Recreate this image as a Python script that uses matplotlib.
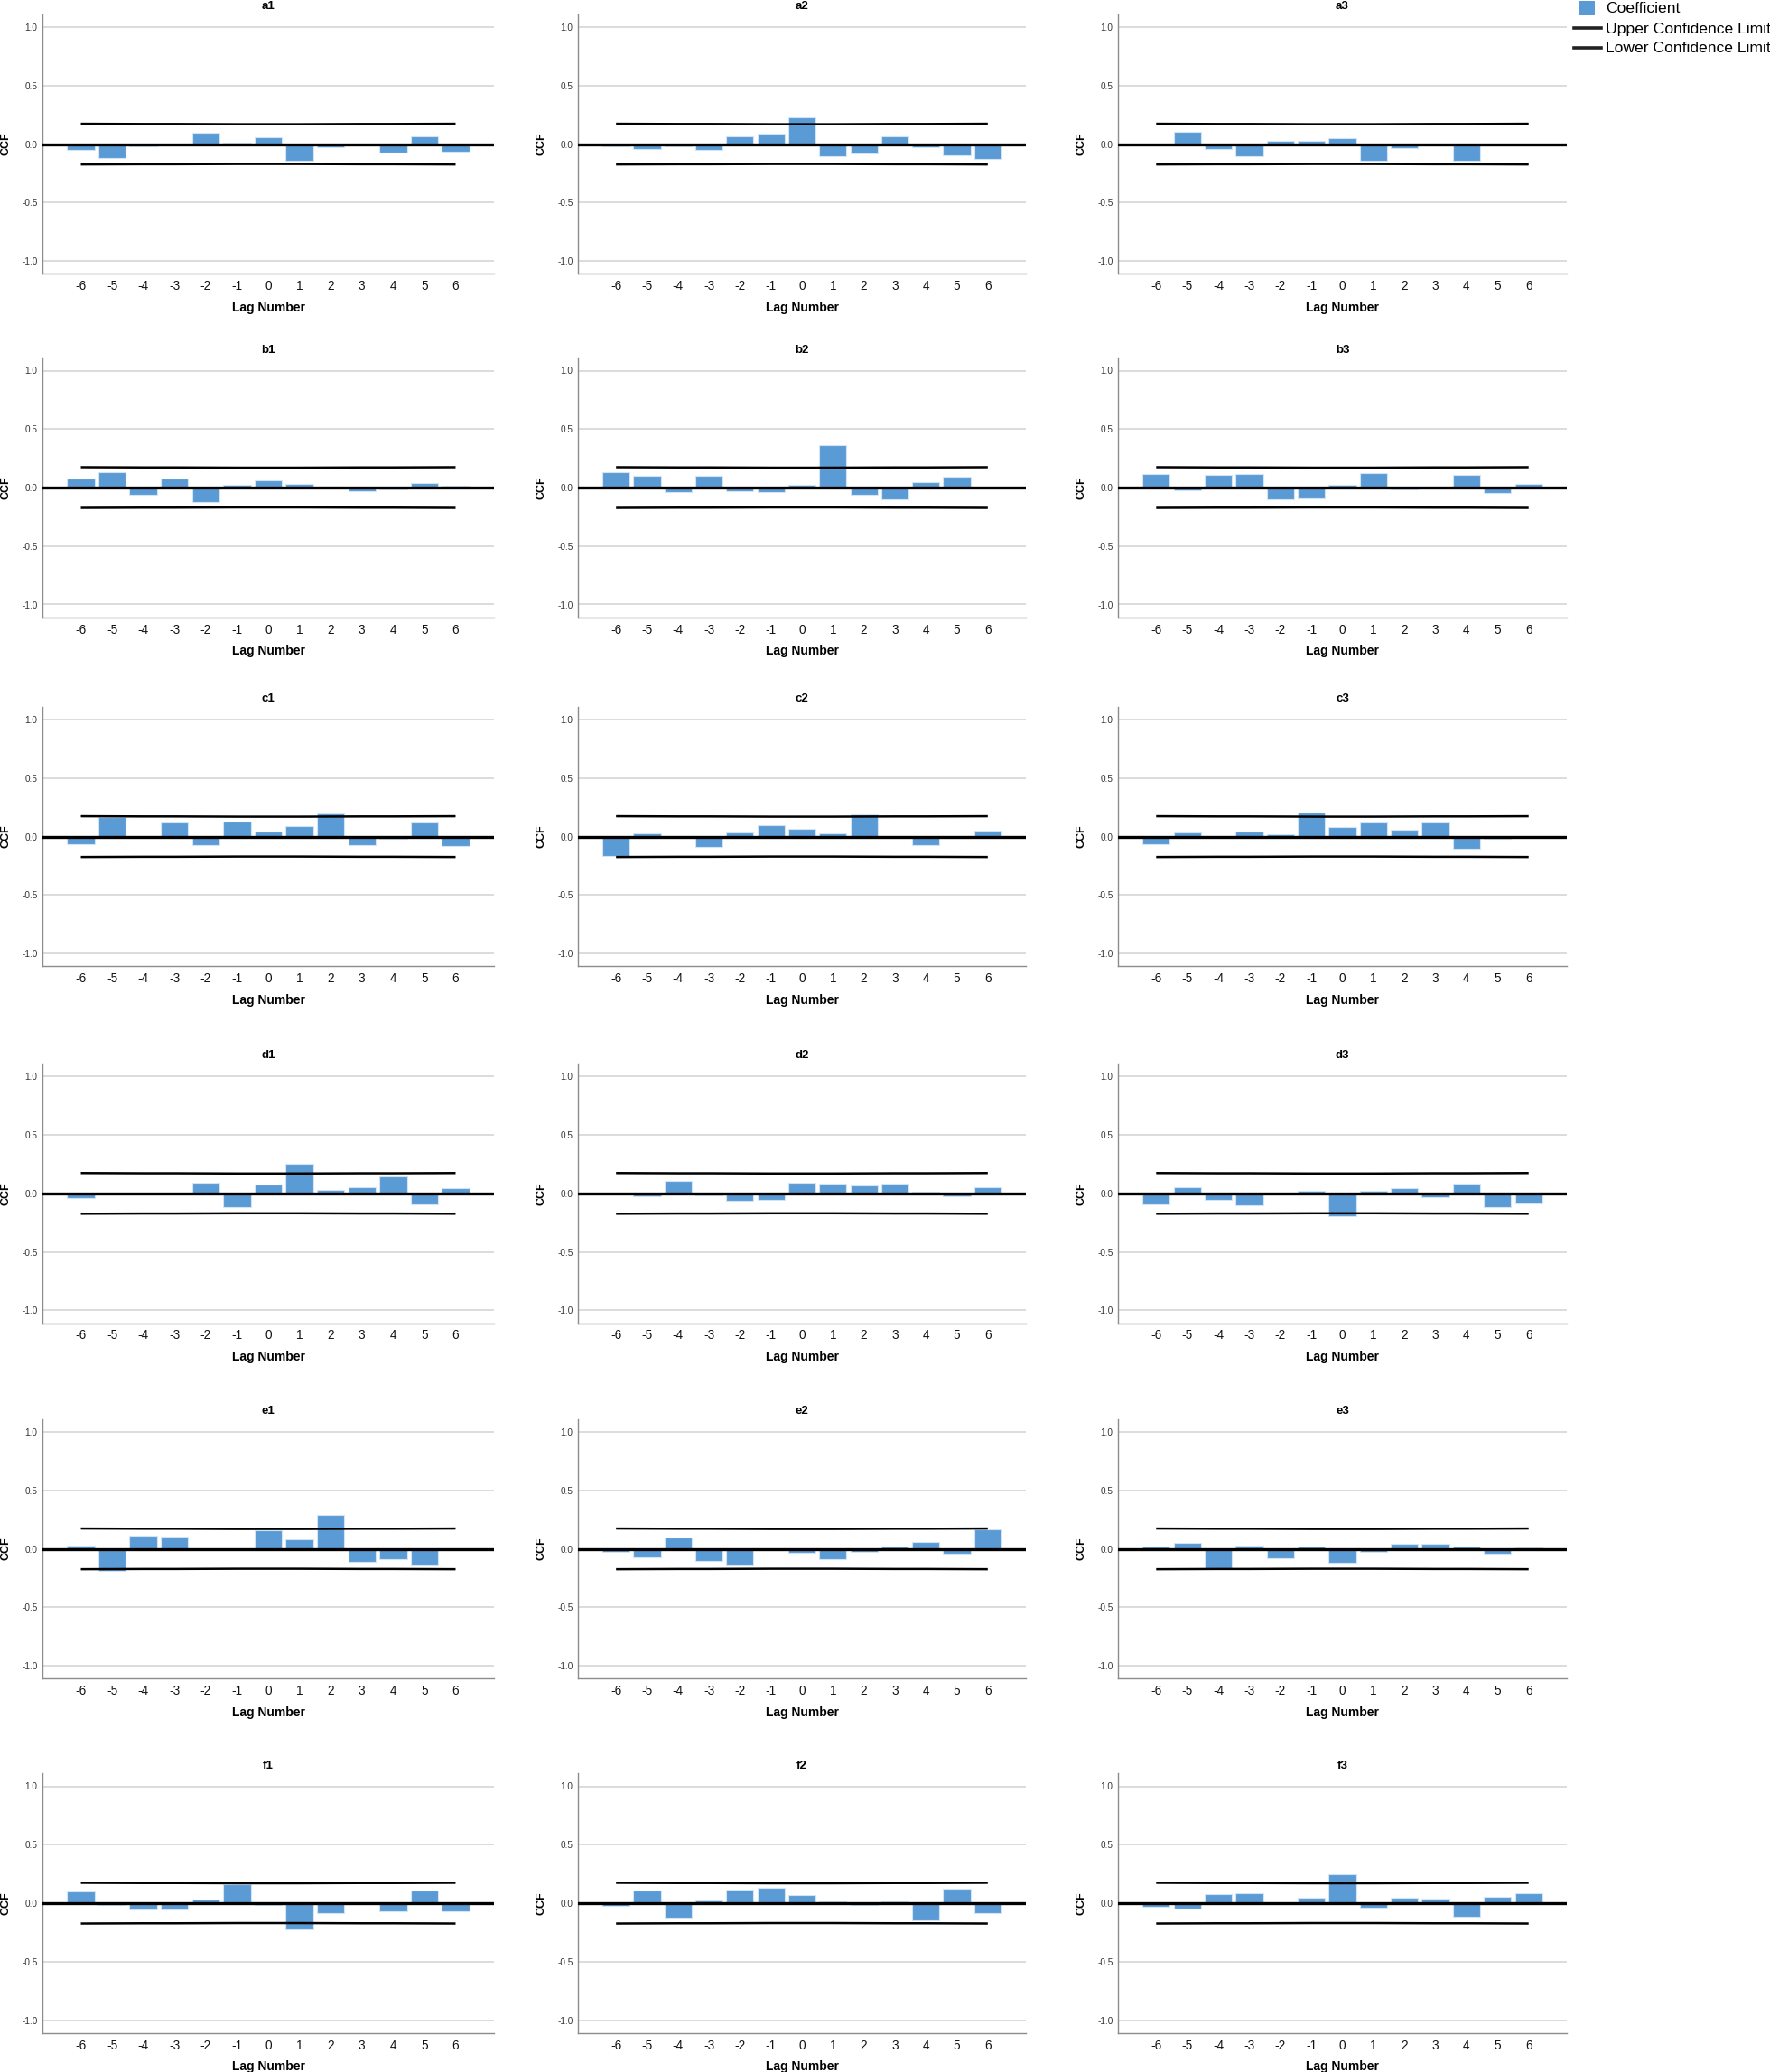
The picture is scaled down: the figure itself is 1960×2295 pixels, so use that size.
import matplotlib
matplotlib.use('Agg')
import matplotlib.pyplot as plt
from matplotlib.lines import Line2D
from matplotlib.patches import Rectangle

plt.rcParams['font.family'] = ['Liberation Sans', 'DejaVu Sans']

# ---------------- data ----------------
LAGS = [-6, -5, -4, -3, -2, -1, 0, 1, 2, 3, 4, 5, 6]
X_TICK_LABELS = ['-6', '-5', '-4', '-3', '-2', '-1', '0', '1', '2', '3', '4', '5', '6']
Y_TICKS = [-1.0, -0.5, 0.0, 0.5, 1.0]
Y_TICK_LABELS = ['-1.0', '-0.5', '0.0', '0.5', '1.0']

UPPER_LIMIT = [0.174, 0.173, 0.172, 0.172, 0.171, 0.170, 0.170, 0.170, 0.171, 0.172, 0.172, 0.173, 0.174]
LOWER_LIMIT = [-0.174, -0.173, -0.172, -0.172, -0.171, -0.170, -0.170, -0.170, -0.171, -0.172, -0.172, -0.173, -0.174]

a1 = [-0.05, -0.12, -0.02, 0.0, 0.10, 0.01, 0.06, -0.14, -0.025, 0.0, -0.075, 0.07, -0.065]
a2 = [-0.02, -0.045, -0.015, -0.05, 0.07, 0.09, 0.23, -0.10, -0.08, 0.07, -0.03, -0.095, -0.13]
a3 = [0.0, 0.105, -0.045, -0.10, 0.03, 0.03, 0.05, -0.145, -0.035, 0.0, -0.14, 0.0, 0.0]

b1 = [0.08, 0.135, -0.06, 0.075, -0.12, 0.02, 0.065, 0.03, 0.005, -0.028, -0.018, 0.035, 0.015]
b2 = [0.13, 0.097, -0.038, 0.10, -0.028, -0.035, 0.02, 0.36, -0.06, -0.10, 0.046, 0.095, 0.0]
b3 = [0.118, -0.02, 0.105, 0.113, -0.098, -0.095, 0.02, 0.126, -0.018, 0.0, 0.108, -0.049, 0.028]

c1 = [-0.065, 0.17, -0.013, 0.118, -0.072, 0.128, 0.044, 0.087, 0.197, -0.074, -0.018, 0.123, -0.08]
c2 = [-0.167, 0.03, 0.0, -0.087, 0.033, 0.097, 0.069, 0.028, 0.192, -0.005, -0.072, -0.01, 0.05]
c3 = [-0.064, 0.034, 0.005, 0.044, 0.023, 0.206, 0.085, 0.118, 0.057, 0.118, -0.10, -0.02, 0.005]

d1 = [-0.038, 0.0, 0.0, 0.0, 0.092, -0.115, 0.074, 0.254, 0.03, 0.049, 0.146, -0.097, 0.046]
d2 = [0.0, -0.025, 0.108, -0.02, -0.064, -0.054, 0.09, 0.085, 0.069, 0.085, 0.015, -0.025, 0.049]
d3 = [-0.093, 0.054, -0.057, -0.103, 0.0, 0.018, -0.196, 0.018, 0.041, -0.034, 0.082, -0.119, -0.09]

e1 = [0.028, -0.192, 0.115, 0.105, 0.0, 0.0, 0.162, 0.085, 0.287, -0.11, -0.09, -0.136, 0.0]
e2 = [-0.023, -0.069, 0.10, -0.105, -0.131, -0.01, -0.031, -0.087, -0.028, 0.02, 0.059, -0.044, 0.167]
e3 = [0.02, 0.049, -0.167, 0.026, -0.08, 0.023, -0.118, -0.028, 0.041, 0.041, 0.023, -0.044, 0.015]

f1 = [0.097, -0.018, -0.054, -0.051, 0.031, 0.164, -0.018, -0.223, -0.087, 0.0, -0.069, 0.108, -0.072]
f2 = [-0.02, 0.105, -0.123, 0.023, 0.113, 0.133, 0.069, 0.015, -0.018, 0.015, -0.146, 0.123, -0.085]
f3 = [-0.028, -0.049, 0.077, 0.085, 0.0, 0.046, 0.25, -0.041, 0.049, 0.041, -0.118, 0.057, 0.088]

PANEL_NAMES = [['a1', 'a2', 'a3'],
               ['b1', 'b2', 'b3'],
               ['c1', 'c2', 'c3'],
               ['d1', 'd2', 'd3'],
               ['e1', 'e2', 'e3'],
               ['f1', 'f2', 'f3']]
VALUES = {'a1': a1, 'a2': a2, 'a3': a3, 'b1': b1, 'b2': b2, 'b3': b3,
          'c1': c1, 'c2': c2, 'c3': c3, 'd1': d1, 'd2': d2, 'd3': d3,
          'e1': e1, 'e2': e2, 'e3': e3, 'f1': f1, 'f2': f2, 'f3': f3}

LEGEND_LABELS = ['Coefficient', 'Upper Confidence Limit', 'Lower Confidence Limit']

# ---------------- layout ----------------
W, H = 1960, 2295
BAR_COLOR = '#5b9bd5'
fig = plt.figure(figsize=(W / 100, H / 100), dpi=100)

COL_LEFT = [47, 640, 1238]
COL_WIDTH = [500, 496, 497]
ROW_ZERO = [159.6, 540.0, 926.6, 1321.8, 1715.6, 2108.0]
PX_PER_UNIT = 129.5
YLIM = 1.11
XLIM = 7.23

for r, row in enumerate(PANEL_NAMES):
    for c, name in enumerate(row):
        top = ROW_ZERO[r] - YLIM * PX_PER_UNIT
        hgt = 2 * YLIM * PX_PER_UNIT
        ax = fig.add_axes([COL_LEFT[c] / W, 1 - (top + hgt) / H, COL_WIDTH[c] / W, hgt / H])
        ax.bar(LAGS, VALUES[name], width=0.88, color=BAR_COLOR,
               edgecolor='#d3e4f4', linewidth=0.8, zorder=2)
        ax.plot(LAGS, UPPER_LIMIT, color='black', lw=1.8, zorder=3, solid_capstyle='butt')
        ax.plot(LAGS, LOWER_LIMIT, color='black', lw=1.8, zorder=3, solid_capstyle='butt')
        ax.axhline(0, color='black', lw=2.4, zorder=4)
        ax.set_xlim(-XLIM, XLIM)
        ax.set_ylim(-YLIM, YLIM)
        ax.set_yticks(Y_TICKS)
        ax.set_yticklabels(Y_TICK_LABELS, fontsize=7.2, color='#333333')
        ax.set_xticks(LAGS)
        ax.set_xticklabels(X_TICK_LABELS, fontsize=9.8, color='#111111')
        ax.tick_params(axis='both', length=0)
        ax.tick_params(axis='x', pad=5)
        ax.tick_params(axis='y', pad=4)
        ax.yaxis.grid(True, color='#d2d2d2', lw=1.1, zorder=0)
        ax.set_axisbelow(True)
        for s in ['top', 'right']:
            ax.spines[s].set_visible(False)
        for s in ['left', 'bottom']:
            ax.spines[s].set_color('#8c8c8c')
            ax.spines[s].set_linewidth(1.0)
        ax.set_xlabel('Lag Number', fontsize=10, fontweight='bold', labelpad=7)
        ax.set_ylabel('CCF', fontsize=9, fontweight='bold', labelpad=8)
        ax.set_title(name, fontsize=9.5, fontweight='bold', pad=4)

# ---------------- legend ----------------
fig.add_artist(Rectangle((1749 / W, 1 - 17 / H), 17 / W, 16 / H,
                         transform=fig.transFigure, facecolor=BAR_COLOR,
                         edgecolor='none'))
fig.text(1778 / W, 1 - 10 / H, LEGEND_LABELS[0], fontsize=12.6, va='center', ha='left')
for i, yy in enumerate([31, 53]):
    fig.add_artist(Line2D([1743 / W, 1773 / W], [1 - yy / H, 1 - yy / H],
                          transform=fig.transFigure, color='#222222', lw=2.6))
    fig.text(1778 / W, 1 - (yy + 1) / H, LEGEND_LABELS[i + 1], fontsize=12.6,
             va='center', ha='left')

fig.savefig('out.png', dpi=100)
